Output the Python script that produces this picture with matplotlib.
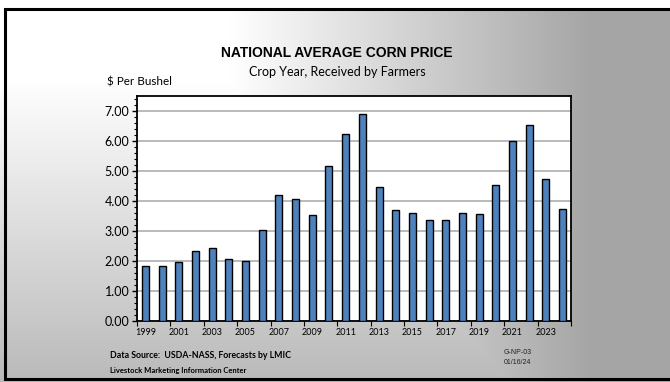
import numpy as np
import matplotlib
matplotlib.use("Agg")
import matplotlib.pyplot as plt
from matplotlib.patches import Rectangle
from matplotlib.ticker import MultipleLocator, FixedLocator

# Crop-year average corn price received by farmers, $/bu
years = list(range(1999, 2025))
prices = [1.82, 1.85, 1.97, 2.32, 2.42, 2.06, 2.00, 3.04, 4.20, 4.06,
          3.55, 5.18, 6.22, 6.89, 4.46, 3.70, 3.61, 3.36, 3.36, 3.61,
          3.56, 4.53, 6.00, 6.54, 4.75, 3.75]
tick_years = [str(y) for y in years[::2]]

W, H = 670, 382
fig = plt.figure(figsize=(W / 100, H / 100), dpi=100)

# slide background: white top-left fading to gray on the right and bottom
bg = fig.add_axes([0, 0, 1, 1])
xx, yy = np.meshgrid(np.linspace(0, W, W), np.linspace(0, H, H))
h = np.clip((xx - 230) / 360, 0, 1)
v = np.clip((yy - 80) / 300, 0, 1)
dark = np.maximum(0.35 * h, 0.27 * v)
shade = 1 - dark
bg.imshow(np.dstack([shade] * 3), extent=[0, W, H, 0], aspect="auto")
bg.add_patch(Rectangle((0, 0), W, 8, color="white", zorder=2))
# slide frame
bg.plot([W + 5, 5, 5, W + 5], [8.5, 8.5, 379, 379], color="black",
        lw=2.2, zorder=3, solid_joinstyle="miter")
bg.set_xlim(0, W)
bg.set_ylim(H, 0)
bg.axis("off")

# text on the slide
bg.text(337, 53, "NATIONAL AVERAGE CORN PRICE", ha="center", va="center",
        fontsize=10, fontweight="bold", family="Liberation Sans")
bg.text(337, 72, "Crop Year, Received by Farmers", ha="center", va="center",
        fontsize=9, family="Lato")
bg.text(107, 82, "$ Per Bushel", ha="left", va="center",
        fontsize=8.4, family="Lato")
bg.text(110, 355, "Data Source:  USDA-NASS, Forecasts by LMIC", ha="left",
        va="center", fontsize=6.3, fontweight="bold", family="Lato")
bg.text(110, 370, "Livestock Marketing Information Center", ha="left",
        va="center", fontsize=5.5, fontweight="bold", family="Lato")
bg.text(504, 353, "G-NP-03", ha="left", va="center", fontsize=5,
        family="Liberation Sans", color="#222222")
bg.text(504, 362, "01/16/24", ha="left", va="center", fontsize=5,
        family="Liberation Sans", color="#222222")

# bar chart
left, right, top, bottom = 137, 571, 96, 321
ax = fig.add_axes([left / W, (H - bottom) / H, (right - left) / W,
                   (bottom - top) / H])
ax.set_facecolor("white")
x = np.arange(len(years))
ax.bar(x, prices, width=0.42, color="#4F81BD", edgecolor="black",
       linewidth=1.0, zorder=3)
ax.set_xlim(-0.5, len(years) - 0.5)
ax.set_ylim(0, 7.5)

ax.yaxis.set_major_locator(FixedLocator(np.arange(0, 7.01, 1.0)))
ax.yaxis.set_minor_locator(MultipleLocator(0.2))
ax.set_yticklabels([f"{v:.2f}" for v in np.arange(0, 7.01, 1.0)],
                   fontsize=9, family="Lato")
ax.grid(axis="y", which="major", color="#b4b4b4", linewidth=1.3, zorder=1)

ax.set_xticks(x[::2])
ax.set_xticklabels(tick_years, fontsize=6.5, family="Lato")
ax.xaxis.set_minor_locator(FixedLocator(np.arange(-0.5, len(years), 2)))
ax.tick_params(axis="x", which="major", length=0, pad=5)
ax.tick_params(axis="x", which="minor", length=3.5, width=0.8, direction="out")
ax.tick_params(axis="y", which="major", length=3.5, width=1.0, pad=2)
ax.tick_params(axis="y", which="minor", length=2, width=0.8)
for s in ax.spines.values():
    s.set_linewidth(1.3)
    s.set_color("black")

fig.savefig("out.png", dpi=100)
